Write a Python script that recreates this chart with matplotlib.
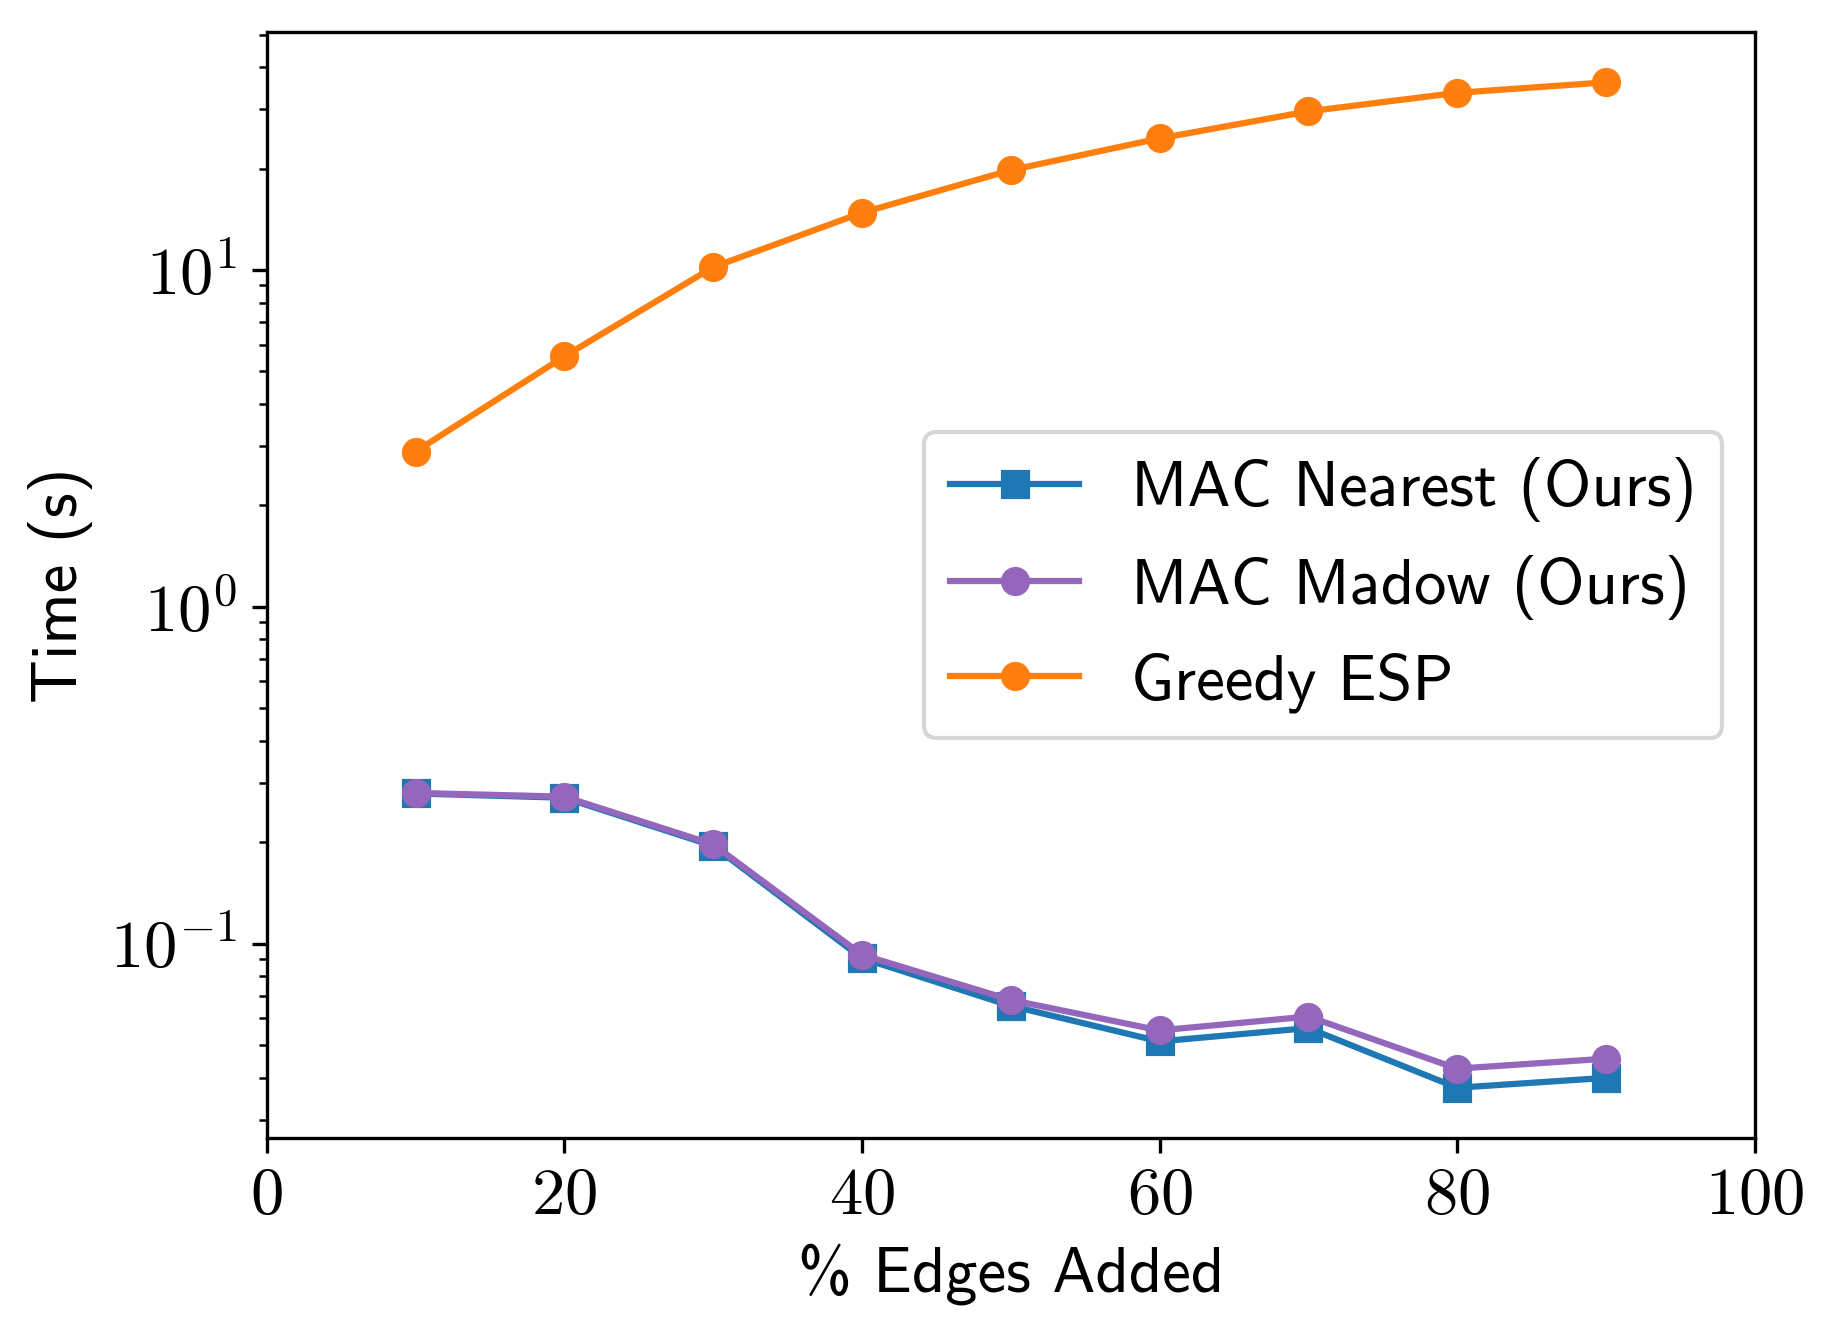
import matplotlib
matplotlib.use('Agg')
import matplotlib.pyplot as plt

edges = [10, 20, 30, 40, 50, 60, 70, 80, 90]
mac_nearest = [0.279, 0.271, 0.195, 0.0905, 0.0653, 0.0512, 0.0561, 0.0373, 0.0399]
mac_madow = [0.280, 0.273, 0.197, 0.0926, 0.0680, 0.0552, 0.0607, 0.0425, 0.0455]
greedy_esp = [2.89, 5.54, 10.2, 14.8, 19.8, 24.6, 29.6, 33.6, 36.1]

plt.rcParams['font.family'] = 'cmr10'
plt.rcParams['mathtext.fontset'] = 'cm'
plt.rcParams['axes.formatter.use_mathtext'] = True
plt.rcParams['font.size'] = 16

fig, ax = plt.subplots(figsize=(1833 / 300, 1336 / 300), dpi=300)
fig.subplots_adjust(left=0.1455, right=0.9573, top=0.976, bottom=0.1482)

ax.plot(edges, mac_nearest, marker='s', color='C0', label='MAC Nearest (Ours)')
ax.plot(edges, mac_madow, marker='o', color='C4', label='MAC Madow (Ours)')
ax.plot(edges, greedy_esp, marker='o', color='C1', label='Greedy ESP')

ax.set_yscale('log')
ax.set_xlim(0, 100)
ax.set_xticks([0, 20, 40, 60, 80, 100])

ax.set_xlabel('% Edges Added', family='cmss10', fontsize=15.5)
ax.set_ylabel('Time (s)', family='cmss10', fontsize=15.5)
ax.legend(loc='center right', prop={'family': 'cmss10', 'size': 15.5})

fig.savefig('out.png', dpi=300)
